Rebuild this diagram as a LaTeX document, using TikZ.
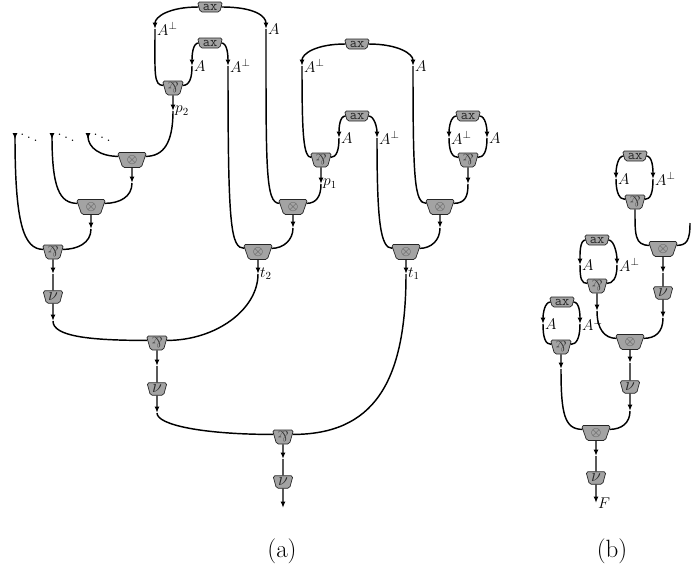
\RequirePackage{fix-cm}
\documentclass[tikz,border=0pt]{standalone}
\usepackage{graphicx}
\usetikzlibrary{shapes.geometric,arrows.meta}
\newcommand{\parsym}{\rotatebox[origin=c]{180}{\&}}
\begin{document}
\begin{tikzpicture}[x=1pt,y=1pt,
  gate/.style={trapezium, trapezium stretches=true, shape border rotate=180,
    trapezium left angle=72, trapezium right angle=72, draw=black!85, line width=0.7pt,
    fill=black!36, rounded corners=1.8pt, inner sep=0pt},
  tens/.style={gate, minimum width=29pt, minimum height=15pt, font=\fontsize{13.5}{13.5}\selectfont, text=black!75},
  parn/.style={gate, minimum width=21pt, minimum height=14pt, font=\fontsize{14.5}{14.5}\selectfont, text=black!80},
  nun/.style={gate, minimum width=20pt, minimum height=12.5pt, font=\fontsize{18}{18}\selectfont, text=black!85},
  axn/.style={gate, minimum width=25pt, minimum height=10pt, font=\fontsize{14}{14}\selectfont\ttfamily, text=black!85},
  wire/.style={line width=1.45pt},
  arr/.style={wire, -{Latex[length=6.5pt,width=5pt]}},
  rarr/.style={wire, {Latex[length=6.5pt,width=5pt,reversed]}-},
  lbl/.style={anchor=west, inner sep=2pt, font=\fontsize{15.5}{15.5}\selectfont},
  dotlbl/.style={font=\fontsize{18}{18}\selectfont, inner sep=0pt},
  captxt/.style={font=\fontsize{25}{28}\selectfont}
]
\useasboundingbox (0,0) rectangle (691,-576);

% ---------------- (a) nodes
\node[axn] (ax1) at (210,-7) {ax};
\node[axn] (ax2) at (210,-43) {ax};
\node[parn] (pA) at (173,-88) {\parsym};
\node[tens] (T1) at (132,-160) {$\otimes$};
\node[tens] (T2) at (91,-207) {$\otimes$};
\node[parn] (P3) at (53,-252) {\parsym};
\node[nun] (N1) at (53,-297) {$\nu$};
\node[parn] (P4) at (157,-343) {\parsym};
\node[nun] (N2) at (157,-389) {$\nu$};
\node[parn] (P5) at (283,-437) {\parsym};
\node[nun] (N3) at (283,-482) {$\nu$};
\node[tens] (T6) at (258,-252) {$\otimes$};
\node[axn] (ax3) at (357,-44) {ax};
\node[axn] (ax4) at (357,-116) {ax};
\node[parn] (pB) at (321,-160) {\parsym};
\node[tens] (T3) at (293,-207) {$\otimes$};
\node[axn] (ax5) at (468,-116) {ax};
\node[parn] (pC) at (468,-160) {\parsym};
\node[tens] (T4) at (440,-207) {$\otimes$};
\node[tens] (T5) at (406,-252) {$\otimes$};

% ---------------- (b) nodes
\node[axn] (ax6) at (635,-156) {ax};
\node[parn] (pD) at (635,-202) {\parsym};
\node[tens] (T7) at (663,-249) {$\otimes$};
\node[nun] (N4) at (663,-293) {$\nu$};
\node[axn] (ax7) at (597,-240) {ax};
\node[parn] (pE) at (597,-286) {\parsym};
\node[tens] (T8) at (630,-342) {$\otimes$};
\node[nun] (N5) at (630,-387) {$\nu$};
\node[axn] (ax8) at (562,-302) {ax};
\node[parn] (pF) at (561,-347) {\parsym};
\node[tens] (T9) at (596,-433) {$\otimes$};
\node[nun] (N6) at (596,-478) {$\nu$};

% ---------------- coordinates (a)
\coordinate (a1) at (155,-29);
\coordinate (a2) at (266,-29);
\coordinate (a3) at (192,-66);
\coordinate (a4) at (228,-66);
\coordinate (a5) at (173,-111);
\coordinate (d1) at (15,-133);
\coordinate (d2) at (52,-133);
\coordinate (d3) at (88,-133);
\coordinate (a6) at (132,-183);
\coordinate (a7) at (91,-229);
\coordinate (a8) at (53,-274);
\coordinate (a9) at (53,-321);
\coordinate (a10) at (157,-366);
\coordinate (a11) at (157,-413);
\coordinate (a12) at (283,-459);
\coordinate (e1) at (283,-508);
\coordinate (b1) at (302,-66);
\coordinate (b2) at (413,-66);
\coordinate (b3) at (339,-138);
\coordinate (b4) at (377,-138);
\coordinate (b5) at (321,-184);
\coordinate (b6) at (293,-228);
\coordinate (b7) at (449,-138);
\coordinate (b8) at (487,-138);
\coordinate (b9) at (468,-184);
\coordinate (b10) at (440,-228);
\coordinate (b11) at (258,-274);
\coordinate (b12) at (406,-274);
% ---------------- coordinates (b)
\coordinate (c1) at (616,-179);
\coordinate (c2) at (653,-179);
\coordinate (h1) at (690,-223);
\coordinate (c3) at (663,-273);
\coordinate (c4) at (663,-318);
\coordinate (c5) at (580,-265);
\coordinate (c6) at (617,-265);
\coordinate (c7) at (597,-311);
\coordinate (c8) at (543,-324);
\coordinate (c9) at (580,-324);
\coordinate (c10) at (561,-369);
\coordinate (c11) at (630,-363);
\coordinate (c12) at (630,-411);
\coordinate (c13) at (596,-456);
\coordinate (c14) at (596,-503);

% ---------------- wires (a)
\draw[arr] (ax1.west) to[out=180,in=90,out distance=30pt,in distance=12pt] (a1);
\draw[arr] (ax1.east) to[out=0,in=90,out distance=35pt,in distance=12pt] (a2);
\draw[wire] (a1) to[out=-90,in=180,out distance=45pt,in distance=10pt] (pA.165);
\draw[wire] (a2) to[out=-90,in=180,out distance=140pt,in distance=14pt] (T3.165);
\draw[arr] (ax2.west) to[out=180,in=90,out distance=6pt,in distance=10pt] (a3);
\draw[arr] (ax2.east) to[out=0,in=90,out distance=6pt,in distance=10pt] (a4);
\draw[wire] (a3) to[out=-90,in=0,out distance=12pt,in distance=7pt] (pA.15);
\draw[wire] (a4) to[out=-90,in=180,out distance=160pt,in distance=14pt] (T6.165);
\draw[arr] (pA.south) -- (a5);
\draw[wire] (a5) to[out=-90,in=0,out distance=32pt,in distance=18pt] (T1.15);
\draw[rarr] (d3) to[out=-90,in=180,out distance=15pt,in distance=18pt] (T1.165);
\draw[arr] (T1.south) -- (a6);
\draw[wire] (a6) to[out=-90,in=0,out distance=14pt,in distance=15pt] (T2.15);
\draw[rarr] (d2) to[out=-90,in=180,out distance=55pt,in distance=18pt] (T2.165);
\draw[arr] (T2.south) -- (a7);
\draw[wire] (a7) to[out=-90,in=0,out distance=14pt,in distance=15pt] (P3.15);
\draw[rarr] (d1) to[out=-90,in=180,out distance=90pt,in distance=20pt] (P3.165);
\draw[arr] (P3.south) -- (a8);
\draw[wire] (a8) -- (N1.north);
\draw[arr] (N1.south) -- (a9);
\draw[wire] (a9) to[out=-90,in=180,out distance=15pt,in distance=60pt] (P4.165);
\draw[arr] (T6.south) -- (b11);
\draw[wire] (b11) to[out=-90,in=0,out distance=35pt,in distance=50pt] (P4.15);
\draw[arr] (P4.south) -- (a10);
\draw[wire] (a10) -- (N2.north);
\draw[arr] (N2.south) -- (a11);
\draw[wire] (a11) to[out=-90,in=180,out distance=12pt,in distance=70pt] (P5.165);
\draw[arr] (T5.south) -- (b12);
\draw[wire] (b12) to[out=-90,in=0,out distance=110pt,in distance=80pt] (P5.15);
\draw[arr] (P5.south) -- (a12);
\draw[wire] (a12) -- (N3.north);
\draw[arr] (N3.south) -- (e1);

\draw[arr] (ax3.west) to[out=180,in=90,out distance=30pt,in distance=12pt] (b1);
\draw[arr] (ax3.east) to[out=0,in=90,out distance=30pt,in distance=12pt] (b2);
\draw[wire] (b1) to[out=-90,in=180,out distance=70pt,in distance=8pt] (pB.165);
\draw[wire] (b2) to[out=-90,in=180,out distance=115pt,in distance=12pt] (T4.165);
\draw[arr] (ax4.west) to[out=180,in=90,out distance=6pt,in distance=10pt] (b3);
\draw[arr] (ax4.east) to[out=0,in=90,out distance=6pt,in distance=10pt] (b4);
\draw[wire] (b3) to[out=-90,in=0,out distance=12pt,in distance=6pt] (pB.15);
\draw[wire] (b4) to[out=-90,in=180,out distance=85pt,in distance=12pt] (T5.165);
\draw[arr] (pB.south) -- (b5);
\draw[wire] (b5) to[out=-90,in=0,out distance=12pt,in distance=10pt] (T3.15);
\draw[arr] (T3.south) -- (b6);
\draw[wire] (b6) to[out=-90,in=0,out distance=12pt,in distance=12pt] (T6.15);
\draw[arr] (ax5.west) to[out=180,in=90,out distance=6pt,in distance=10pt] (b7);
\draw[arr] (ax5.east) to[out=0,in=90,out distance=6pt,in distance=10pt] (b8);
\draw[wire] (b7) to[out=-90,in=180,out distance=14pt,in distance=6pt] (pC.165);
\draw[wire] (b8) to[out=-90,in=0,out distance=14pt,in distance=6pt] (pC.15);
\draw[arr] (pC.south) -- (b9);
\draw[wire] (b9) to[out=-90,in=0,out distance=12pt,in distance=12pt] (T4.15);
\draw[arr] (T4.south) -- (b10);
\draw[wire] (b10) to[out=-90,in=0,out distance=12pt,in distance=12pt] (T5.15);

% ---------------- wires (b)
\draw[arr] (ax6.west) to[out=180,in=90,out distance=6pt,in distance=10pt] (c1);
\draw[arr] (ax6.east) to[out=0,in=90,out distance=6pt,in distance=10pt] (c2);
\draw[wire] (c1) to[out=-90,in=180,out distance=14pt,in distance=6pt] (pD.165);
\draw[wire] (c2) to[out=-90,in=0,out distance=14pt,in distance=6pt] (pD.15);
\draw[wire] (pD.south) to[out=-90,in=180,out distance=25pt,in distance=15pt] (T7.165);
\draw[wire] (h1) to[out=-90,in=0,out distance=18pt,in distance=10pt] (T7.15);
\draw[arr] (T7.south) -- (c3);
\draw[wire] (c3) -- (N4.north);
\draw[arr] (N4.south) -- (c4);
\draw[wire] (c4) to[out=-90,in=0,out distance=14pt,in distance=12pt] (T8.15);
\draw[arr] (ax7.west) to[out=180,in=90,out distance=6pt,in distance=10pt] (c5);
\draw[arr] (ax7.east) to[out=0,in=90,out distance=6pt,in distance=10pt] (c6);
\draw[wire] (c5) to[out=-90,in=180,out distance=14pt,in distance=6pt] (pE.165);
\draw[wire] (c6) to[out=-90,in=0,out distance=14pt,in distance=6pt] (pE.15);
\draw[arr] (pE.south) -- (c7);
\draw[wire] (c7) to[out=-90,in=180,out distance=18pt,in distance=12pt] (T8.165);
\draw[arr] (ax8.west) to[out=180,in=90,out distance=6pt,in distance=10pt] (c8);
\draw[arr] (ax8.east) to[out=0,in=90,out distance=6pt,in distance=10pt] (c9);
\draw[wire] (c8) to[out=-90,in=180,out distance=14pt,in distance=6pt] (pF.165);
\draw[wire] (c9) to[out=-90,in=0,out distance=14pt,in distance=6pt] (pF.15);
\draw[arr] (pF.south) -- (c10);
\draw[wire] (c10) to[out=-90,in=180,out distance=45pt,in distance=18pt] (T9.165);
\draw[arr] (T8.south) -- (c11);
\draw[wire] (c11) -- (N5.north);
\draw[arr] (N5.south) -- (c12);
\draw[wire] (c12) to[out=-90,in=0,out distance=12pt,in distance=12pt] (T9.15);
\draw[arr] (T9.south) -- (c13);
\draw[wire] (c13) -- (N6.north);
\draw[arr] (N6.south) -- (c14);

% ---------------- labels
\node[lbl] (l1) at (a1) {$A^\perp$};
\node[lbl] (l2) at (a2) {$A$};
\node[lbl] (l3) at (a3) {$A$};
\node[lbl] (l4) at (a4) {$A^\perp$};
\node[lbl] (l5) at (a5) {$p_2$};
\node[lbl] (l6) at (b1) {$A^\perp$};
\node[lbl] (l7) at (b2) {$A$};
\node[lbl] (l8) at (b3) {$A$};
\node[lbl] (l9) at (b4) {$A^\perp$};
\node[lbl] (l10) at (b5) {$p_1$};
\node[lbl] (l11) at (b7) {$A^\perp$};
\node[lbl] (l12) at (b8) {$A$};
\node[lbl] (l13) at (b11) {$t_2$};
\node[lbl] (l14) at (b12) {$t_1$};
\node[lbl] (l15) at (c1) {$A$};
\node[lbl] (l16) at (c2) {$A^\perp$};
\node[lbl] (l17) at (c5) {$A$};
\node[lbl] (l18) at (c6) {$A^\perp$};
\node[lbl] (l19) at (c8) {$A$};
\node[lbl] (l20) at (c9) {$A^\perp$};
\node[lbl] (l21) at (c14) {$F$};

\node[dotlbl] (dd1) at (29,-135) {$\ddots$};
\node[dotlbl] (dd2) at (66,-135) {$\ddots$};
\node[dotlbl] (dd3) at (102,-135) {$\ddots$};

\node[captxt] (capA) at (282,-551) {(a)};
\node[captxt] (capB) at (612,-551) {(b)};
\end{tikzpicture}
\end{document}
